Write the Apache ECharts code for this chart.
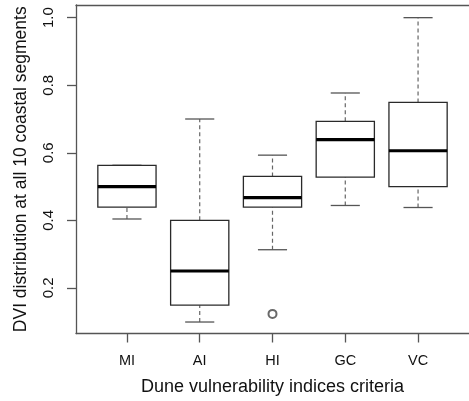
<!DOCTYPE html>
<html>
<head>
<meta charset="utf-8">
<script src="https://cdn.jsdelivr.net/npm/echarts@6/dist/echarts.min.js"></script>
<style>
  html, body { margin: 0; padding: 0; background: #fff; }
  #chart { width: 469px; height: 401px; }
</style>
</head>
<body>
<div id="chart"></div>
<script>
  // 箱线图数据
  var categories = ['MI', 'AI', 'HI', 'GC', 'VC']
  var whiskerLow = [0.404, 0.099, 0.313, 0.444, 0.438]
  var q1 = [0.439, 0.149, 0.439, 0.528, 0.500]
  var median = [0.500, 0.250, 0.467, 0.639, 0.606]
  var q3 = [0.563, 0.400, 0.530, 0.693, 0.749]
  var whiskerHigh = [0.563, 0.700, 0.593, 0.777, 1.000]
  var outlierCategory = ['HI']
  var outlierValue = [0.123]
  var yTicks = [0.2, 0.4, 0.6, 0.8, 1.0]

  var fontFamily = "'Liberation Sans', Arial, Helvetica, sans-serif"
  var axisColor = '#555'
  var boxColor = '#2a2a2a'

  var catPos = categories.map(function (c, i) { return i + 1 })
  var boxData = categories.map(function (c, i) {
    return [i + 1, whiskerLow[i], q1[i], median[i], q3[i], whiskerHigh[i]]
  })
  var outlierData = outlierCategory.map(function (c, i) {
    return [categories.indexOf(c) + 1, outlierValue[i]]
  })

  function renderBox(params, api) {
    var x = api.value(0)
    var band = api.size([1, 0])[0]
    var half = band * 0.8 / 2
    var cap = half / 2
    var pLow = api.coord([x, api.value(1)])
    var pQ1 = api.coord([x, api.value(2)])
    var pMed = api.coord([x, api.value(3)])
    var pQ3 = api.coord([x, api.value(4)])
    var pHigh = api.coord([x, api.value(5)])
    var cx = pMed[0]
    var dashStyle = { stroke: '#666', lineWidth: 1.2, lineDash: [4, 3] }
    return {
      type: 'group',
      children: [
        { type: 'line', shape: { x1: cx, y1: pQ3[1], x2: cx, y2: pHigh[1] }, style: dashStyle },
        { type: 'line', shape: { x1: cx, y1: pLow[1], x2: cx, y2: pQ1[1] }, style: dashStyle },
        { type: 'line', shape: { x1: cx - cap, y1: pHigh[1], x2: cx + cap, y2: pHigh[1] }, style: { stroke: '#555', lineWidth: 1.3 } },
        { type: 'line', shape: { x1: cx - cap, y1: pLow[1], x2: cx + cap, y2: pLow[1] }, style: { stroke: '#555', lineWidth: 1.3 } },
        { type: 'rect', shape: { x: cx - half, y: pQ3[1], width: half * 2, height: pQ1[1] - pQ3[1] },
          style: { fill: '#fff', stroke: boxColor, lineWidth: 1.3 } },
        { type: 'line', shape: { x1: cx - half, y1: pMed[1], x2: cx + half, y2: pMed[1] },
          style: { stroke: '#000', lineWidth: 3.2 } }
      ]
    }
  }

  var myChart = echarts.init(document.getElementById('chart'), null, { renderer: 'canvas' })
  myChart.setOption({
    backgroundColor: '#fff',
    animation: false,
    textStyle: { fontFamily: fontFamily },
    grid: { left: 76, top: 5, width: 400, height: 329 },
    xAxis: [{
      type: 'value',
      min: 0.3,
      max: 5.7,
      position: 'bottom',
      name: 'Dune vulnerability indices criteria',
      nameLocation: 'middle',
      nameGap: 53.5,
      nameTextStyle: { fontSize: 18, color: '#111', fontFamily: fontFamily, verticalAlign: 'middle' },
      axisLine: { show: true, onZero: false, lineStyle: { color: axisColor, width: 1.3 } },
      axisTick: { show: true, length: 9, customValues: catPos, lineStyle: { color: axisColor, width: 1.3 } },
      axisLabel: {
        customValues: catPos,
        margin: 20,
        fontSize: 14.5,
        color: '#111',
        fontFamily: fontFamily,
        formatter: function (v) { return categories[Math.round(v) - 1] }
      },
      splitLine: { show: false }
    }, {
      // 顶部边框
      type: 'value',
      min: 0.3,
      max: 5.7,
      position: 'top',
      axisLine: { show: true, onZero: false, lineStyle: { color: axisColor, width: 1.3 } },
      axisTick: { show: false },
      axisLabel: { show: false },
      splitLine: { show: false }
    }],
    yAxis: {
      type: 'value',
      min: 0.065,
      max: 1.0375,
      name: 'DVI distribution at all 10 coastal segments',
      nameLocation: 'middle',
      nameGap: 55,
      nameTextStyle: { fontSize: 17.5, color: '#111', fontFamily: fontFamily, verticalAlign: 'middle' },
      axisLine: { show: true, onZero: false, lineStyle: { color: axisColor, width: 1.3 } },
      axisTick: { show: true, length: 9, customValues: yTicks, lineStyle: { color: axisColor, width: 1.3 } },
      axisLabel: {
        customValues: yTicks,
        rotate: 90,
        margin: 20,
        fontSize: 15,
        color: '#111',
        fontFamily: fontFamily,
        formatter: function (v) { return v.toFixed(1) }
      },
      splitLine: { show: false }
    },
    series: [{
      type: 'custom',
      name: 'box',
      xAxisIndex: 0,
      renderItem: renderBox,
      encode: { x: 0, y: [1, 2, 3, 4, 5] },
      data: boxData
    }, {
      type: 'scatter',
      name: 'outlier',
      xAxisIndex: 0,
      symbol: 'emptyCircle',
      symbolSize: 8,
      itemStyle: { color: '#444', borderWidth: 1 },
      data: outlierData
    }]
  })
</script>
</body>
</html>
